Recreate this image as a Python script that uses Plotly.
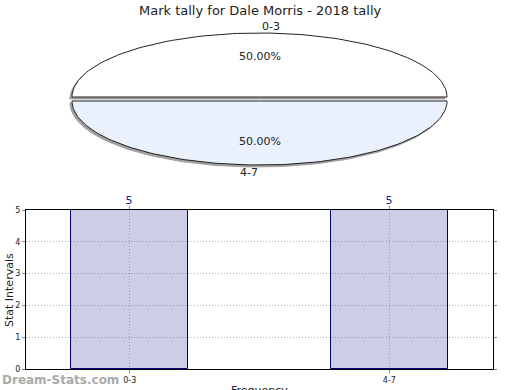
import numpy as np
import plotly.graph_objects as go

# ---- data ----
categories = ["0-3", "4-7"]
counts = [5, 5]
title_text = "Mark tally for Dale Morris - 2018 tally"
y_ticks = [0, 1, 2, 3, 4, 5]
slice_colors = ["#ffffff", "#eaf1fd"]

W, H = 520, 390
fig = go.Figure()

# ---- elliptical pie (drawn on a hidden pixel-space axis) ----
cx, cy, rx, ry = 259.5, 99.0, 187.5, 64.0
pull = 2.0
total = float(sum(counts))
start = 0.0
slices = []
for cat, val, col in zip(categories, counts, slice_colors):
    frac = val / total
    a0, a1 = start, start + frac * 2 * np.pi
    mid = (a0 + a1) / 2
    dx, dy = pull * np.cos(mid), -pull * np.sin(mid)
    t = np.linspace(a0, a1, 120)
    xs = np.concatenate([[cx], cx + rx * np.cos(t), [cx]]) + dx
    ys = np.concatenate([[cy], cy - ry * np.sin(t), [cy]]) + dy
    slices.append((cat, frac, col, mid, xs, ys, dx, dy))
    start = a1

# shadows
for cat, frac, col, mid, xs, ys, dx, dy in slices:
    fig.add_trace(go.Scatter(x=xs - 2, y=ys + 2, mode="lines", fill="toself",
                             fillcolor="#a0a0a0", line=dict(color="#a0a0a0", width=1),
                             xaxis="x2", yaxis="y2", hoverinfo="skip", showlegend=False))
# slices
for cat, frac, col, mid, xs, ys, dx, dy in slices:
    fig.add_trace(go.Scatter(x=xs, y=ys, mode="lines", fill="toself",
                             fillcolor=col, line=dict(color="#222222", width=1),
                             xaxis="x2", yaxis="y2", hoverinfo="skip", showlegend=False))

annotations = []
for cat, frac, col, mid, xs, ys, dx, dy in slices:
    annotations.append(dict(x=cx + 0.6 * rx * np.cos(mid) + dx, y=cy - 0.64 * ry * np.sin(mid) + dy,
                            xref="x2", yref="y2", text=f"{frac*100:.2f}%", showarrow=False,
                            font=dict(size=11, color="#222222", family="DejaVu Sans")))
    lx = cx + (rx + 7) * np.cos(mid) + dx
    ly = cy - (ry + 7) * np.sin(mid) + dy
    annotations.append(dict(x=lx, y=ly, xref="x2", yref="y2", text=cat, showarrow=False,
                            xanchor="left" if np.cos(mid) >= 0 else "right",
                            yanchor="middle",
                            font=dict(size=11, color="#222222", family="DejaVu Sans")))

# ---- bar chart ----
fig.add_trace(go.Bar(x=categories, y=counts, width=0.45,
                     marker=dict(color="rgba(102,102,178,0.33)", line=dict(color="#000080", width=1)),
                     text=[str(c) for c in counts], textposition="outside",
                     textfont=dict(size=11, color="#1a1aa0", family="DejaVu Sans"),
                     cliponaxis=False, showlegend=False, hoverinfo="skip"))

annotations += [
    dict(x=0.5, y=1 - 10 / H, xref="paper", yref="paper", text=title_text, showarrow=False,
         yanchor="middle", font=dict(size=13, color="#222222", family="DejaVu Sans")),
    dict(x=9 / W, y=1 - 290 / H, xref="paper", yref="paper", text="Stat Intervals", textangle=-90,
         xanchor="center", yanchor="middle",
         showarrow=False, font=dict(size=11, color="#222222", family="DejaVu Sans")),
    dict(x=259 / W, y=1 - 382 / H, xref="paper", yref="paper", text="Frequency", yanchor="top",
         xanchor="center", showarrow=False, font=dict(size=11, color="#222222", family="DejaVu Sans")),
    dict(x=0, y=1 - 380 / H, xref="paper", yref="paper", text="<b>Dream-Stats.com</b>", xanchor="left",
         yanchor="middle", showarrow=False, font=dict(size=12, color="#aaaaaa", family="DejaVu Sans")),
]

grid = dict(showgrid=True, gridcolor="#b0b0b0", griddash="1px,2px", gridwidth=1)
fig.update_layout(
    width=W, height=H, margin=dict(l=0, r=0, t=0, b=0, autoexpand=False),
    paper_bgcolor="white", plot_bgcolor="rgba(0,0,0,0)",
    bargap=0,
    xaxis=dict(domain=[26 / W, 493 / W], type="category", range=[-0.4, 1.4],
               showline=True, mirror="ticks", linecolor="black", linewidth=1,
               ticks="outside", ticklen=3, tickcolor="#888888",
               tickfont=dict(size=8, color="#222222", family="DejaVu Sans"),
               fixedrange=True, automargin=False, **grid),
    yaxis=dict(domain=[(H - 369) / H, (H - 210) / H], range=[0, 5], tickvals=y_ticks,
               showline=True, mirror="ticks", linecolor="black", linewidth=1,
               ticks="outside", ticklen=3, tickcolor="#888888",
               tickfont=dict(size=8, color="#222222", family="DejaVu Sans"),
               zeroline=False, fixedrange=True, automargin=False, **grid),
    xaxis2=dict(domain=[0, 1], range=[0, W], visible=False, anchor="y2", fixedrange=True),
    yaxis2=dict(domain=[0, 1], range=[H, 0], visible=False, anchor="x2", fixedrange=True),
    annotations=annotations,
)
fig.write_html("out.html", config={"displayModeBar": False},
               post_script="document.body.style.margin='0px';document.body.style.overflow='hidden';")
